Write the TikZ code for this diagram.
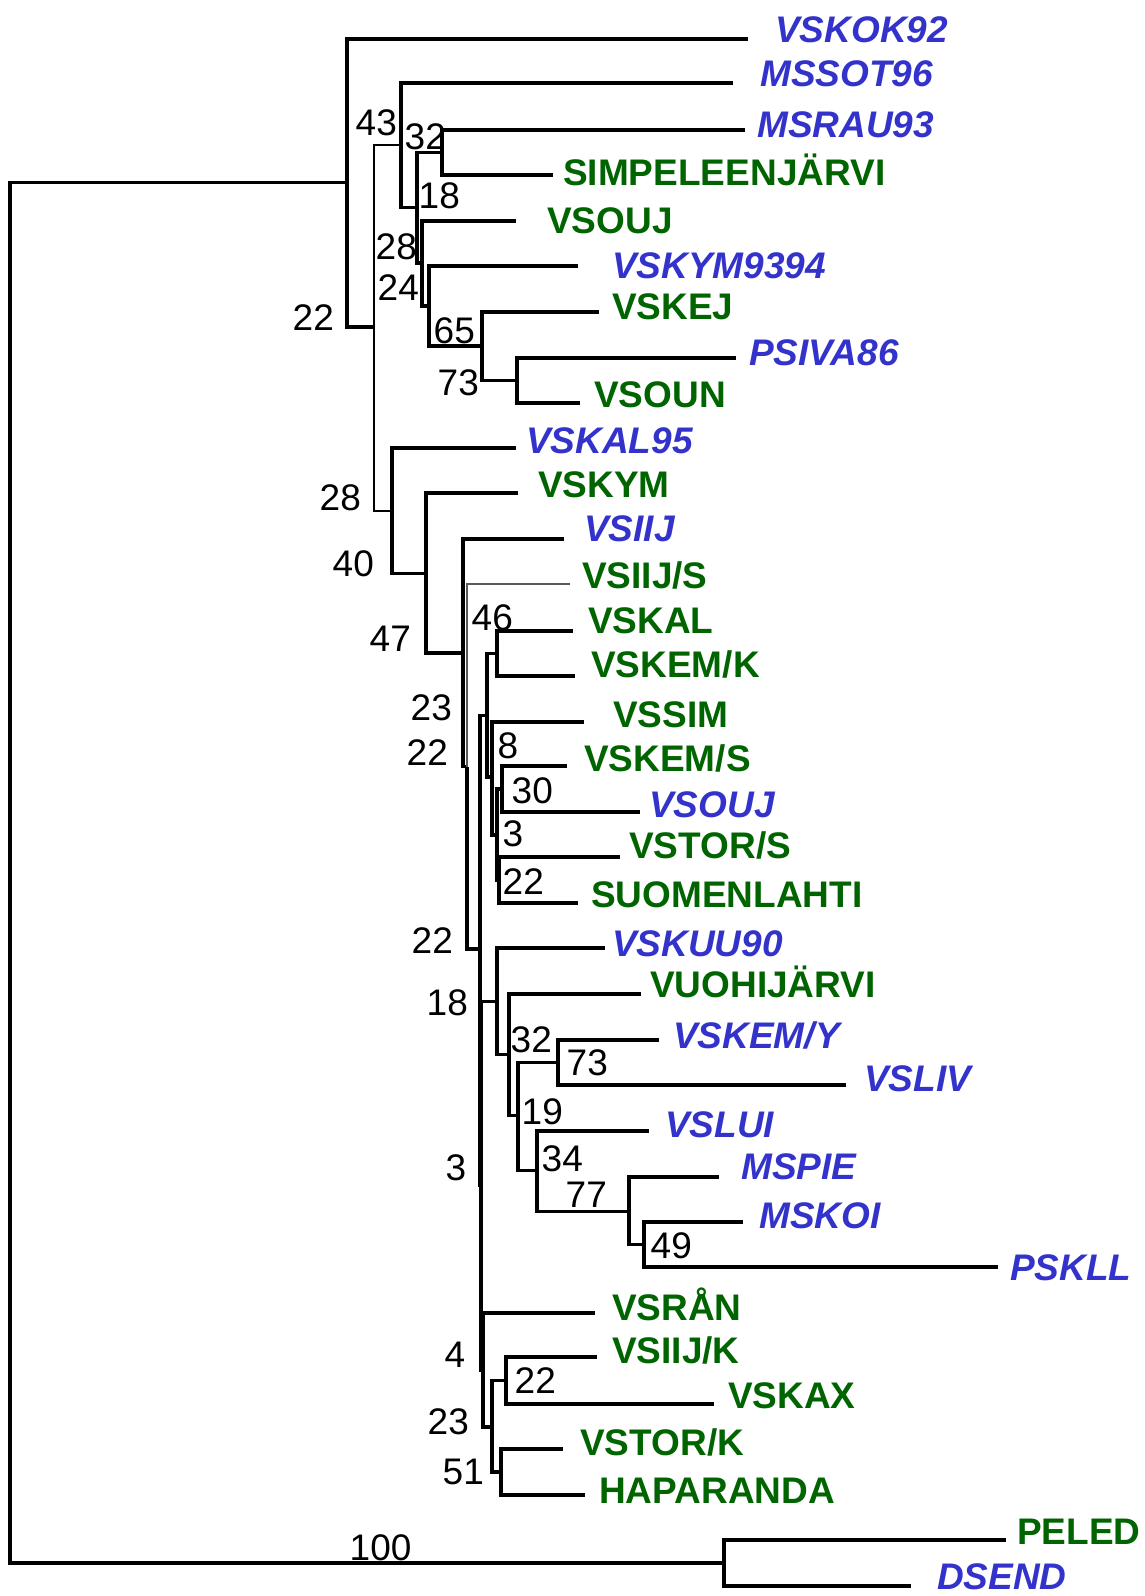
\documentclass[tikz,border=0pt]{standalone}
\usepackage{fontspec}
\setmainfont{Liberation Sans}
\definecolor{tblue}{RGB}{51,51,204}
\definecolor{tgreen}{RGB}{0,100,0}
\tikzset{
  br/.style={line width=3.2pt},
  thinbr/.style={line width=2pt},
  greybr/.style={line width=2.2pt, draw=black!65},
  leafb/.style={anchor=base west, inner sep=0pt, xshift=-4pt, text=tblue, font=\fontsize{37}{40}\selectfont\bfseries\itshape},
  leafg/.style={anchor=base west, inner sep=0pt, xshift=-1pt, text=tgreen, font=\fontsize{37}{40}\selectfont\bfseries},
  boot/.style={anchor=base west, inner sep=0pt, font=\fontsize{37}{40}\selectfont},
}
\newcommand\mkleaf[7]{\coordinate (#1) at (#2,#3); \node[#6] (l#1) at (#4,#5) {#7};}
\begin{document}
\begin{tikzpicture}[x=1pt,y=-1pt]
\fill[white] (0,0) rectangle (1145,1596);
\useasboundingbox (0,0) rectangle (1145,1596);
% internal nodes
\coordinate (root) at (10,873);
\coordinate (R1) at (347,182.5);
\coordinate (OG) at (724,1563);
\coordinate (N22) at (374,327);
\coordinate (N43) at (401,144.5);
\coordinate (N28a) at (417,207.5);
\coordinate (N32) at (442,152.5);
\coordinate (N24) at (422,263);
\coordinate (N65) at (429,306);
\coordinate (N73) at (482,346);
\coordinate (NPS) at (517,380.5);
\coordinate (N28) at (392,511);
\coordinate (N40) at (426,573.5);
\coordinate (N47) at (463,653);
\coordinate (NB) at (467,766.5);
\coordinate (NC) at (480,949);
\coordinate (N23) at (487,715.5);
\coordinate (N46) at (497,653.5);
\coordinate (N8) at (492,777);
\coordinate (N3) at (497,835);
\coordinate (N30) at (502,789);
\coordinate (N22b) at (499,880);
\coordinate (ND) at (481,1185);
\coordinate (N18) at (497,1001.5);
\coordinate (N32b) at (509,1054.5);
\coordinate (N19) at (518,1115.5);
\coordinate (N73b) at (558,1062.5);
\coordinate (N34) at (537,1170.5);
\coordinate (N77) at (629,1211.5);
\coordinate (N49) at (644,1244.5);
\coordinate (N4) at (483,1370);
\coordinate (N23b) at (492,1427);
\coordinate (N22d) at (506,1380.5);
\coordinate (N51) at (501,1472);
% leaves
\mkleaf{VSKOK92}{748}{39}{779}{42}{leafb}{VSKOK92}
\mkleaf{MSSOT96}{733}{83}{764}{86}{leafb}{MSSOT96}
\mkleaf{MSRAU93}{745}{130}{761}{137}{leafb}{MSRAU93}
\mkleaf{SIMP}{553}{175}{564}{185}{leafg}{SIMPELEENJÄRVI}
\mkleaf{VSOUJa}{516}{221}{548}{233}{leafg}{VSOUJ}
\mkleaf{VSKYM9394}{578}{266}{616}{278}{leafb}{VSKYM9394}
\mkleaf{VSKEJ}{599}{312}{613}{319}{leafg}{VSKEJ}
\mkleaf{PSIVA86}{736}{358}{753}{365}{leafb}{PSIVA86}
\mkleaf{VSOUN}{580}{403}{595}{407}{leafg}{VSOUN}
\mkleaf{VSKAL95}{516}{448}{530}{453}{leafb}{VSKAL95}
\mkleaf{VSKYM}{518}{493}{539}{497}{leafg}{VSKYM}
\mkleaf{VSIIJ}{564}{539}{588}{541}{leafb}{VSIIJ}
\mkleaf{VSIIJS}{570}{584}{583}{588}{leafg}{VSIIJ/S}
\mkleaf{VSKAL}{573}{631}{589}{633}{leafg}{VSKAL}
\mkleaf{VSKEMK}{575}{676}{592}{677}{leafg}{VSKEM/K}
\mkleaf{VSSIM}{584}{722}{614}{727}{leafg}{VSSIM}
\mkleaf{VSKEMS}{567}{766}{585}{771}{leafg}{VSKEM/S}
\mkleaf{VSOUJb}{640}{812}{653}{817}{leafb}{VSOUJ}
\mkleaf{VSTORS}{620}{857}{630}{858}{leafg}{VSTOR/S}
\mkleaf{SUOM}{578}{903}{592}{907}{leafg}{SUOMENLAHTI}
\mkleaf{VSKUU90}{605}{948}{616}{956}{leafb}{VSKUU90}
\mkleaf{VUOHI}{641}{994}{651}{997}{leafg}{VUOHIJÄRVI}
\mkleaf{VSKEMY}{659}{1040}{677}{1048}{leafb}{VSKEM/Y}
\mkleaf{VSLIV}{846}{1085}{868}{1091}{leafb}{VSLIV}
\mkleaf{VSLUI}{649}{1131}{669}{1137}{leafb}{VSLUI}
\mkleaf{MSPIE}{719}{1177}{745}{1179}{leafb}{MSPIE}
\mkleaf{MSKOI}{743}{1222}{763}{1228}{leafb}{MSKOI}
\mkleaf{PSKLL}{998}{1267}{1014}{1280}{leafb}{PSKLL}
\mkleaf{VSRAN}{595}{1313}{613}{1320}{leafg}{VSRÅN}
\mkleaf{VSIIJK}{597}{1357}{613}{1363}{leafg}{VSIIJ/K}
\mkleaf{VSKAX}{714}{1404}{729}{1408}{leafg}{VSKAX}
\mkleaf{VSTORK}{563}{1449}{581}{1455}{leafg}{VSTOR/K}
\mkleaf{HAPARANDA}{585}{1495}{600}{1503}{leafg}{HAPARANDA}
\mkleaf{PELED}{1006}{1540}{1018}{1544}{leafg}{PELED}
\mkleaf{DSEND}{911}{1586}{941}{1589}{leafb}{DSEND}
% branches
\foreach \p/\c in {root/R1, root/OG, R1/VSKOK92, R1/N22,
  N43/MSSOT96, N43/N28a, N28a/N32, N28a/N24, N32/MSRAU93, N32/SIMP,
  N24/VSOUJa, N24/N65, N65/VSKYM9394, N65/N73, N73/VSKEJ, N73/NPS,
  NPS/PSIVA86, NPS/VSOUN, N28/VSKAL95, N28/N40, N40/VSKYM, N40/N47,
  N47/VSIIJ, N47/NB, NB/NC, NC/N23, NC/ND, N23/N46, N23/N8,
  N46/VSKAL, N46/VSKEMK, N8/VSSIM, N8/N3, N3/N30, N3/N22b,
  N30/VSKEMS, N30/VSOUJb, N22b/VSTORS, N22b/SUOM,
  ND/N18, ND/N4, N18/VSKUU90, N18/N32b, N32b/VUOHI, N32b/N19,
  N19/N73b, N19/N34, N73b/VSKEMY, N73b/VSLIV, N34/VSLUI, N34/N77,
  N77/MSPIE, N77/N49, N49/MSKOI, N49/PSKLL,
  N4/VSRAN, N4/N23b, N23b/N22d, N23b/N51, N22d/VSIIJK, N22d/VSKAX,
  N51/VSTORK, N51/HAPARANDA, OG/PELED, OG/DSEND}
  \draw[br] (\p) |- (\c);
\foreach \p/\c in {N22/N43, N22/N28}
  \draw[thinbr] (\p) |- (\c);
\draw[greybr] (NB) |- (VSIIJS);
% bootstrap values
\foreach \x/\y/\t [count=\i] in {357/135/43, 406/149/32, 420/208/18, 377/259/28,
  379/300/24, 435/343/65, 439/395/73, 294/330/22, 321/510/28, 334/576/40,
  371/651/47, 412/720/23, 408/765/22, 473/630/46, 499/758/8, 513/803/30,
  504/846/3, 504/894/22, 413/953/22, 428/1015/18, 447/1180/3, 512/1052/32,
  568/1075/73, 523/1124/19, 543/1171/34, 567/1207/77, 652/1258/49,
  446/1367/4, 429/1434/23, 444/1484/51, 516/1393/22, 351/1560/100}
  \node[boot] (b\i) at (\x-1.5,\y) {\t};
\end{tikzpicture}
\end{document}
